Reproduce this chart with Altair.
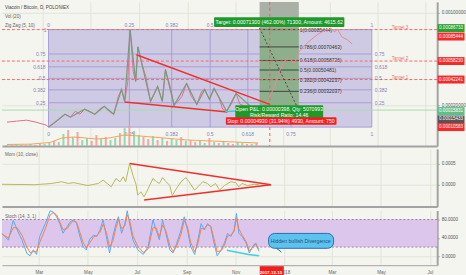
import altair as alt
import pandas as pd

FONT = "Liberation Sans"
BASE = pd.Timestamp("2017-01-14")

# ---------------- data (days counted from 2017-01-14) ----------------
price_day = [0, 12, 25, 37, 50, 53, 62, 74, 81, 87, 93, 99, 105, 112, 118, 124, 130, 136, 142, 146,
             150, 154, 157, 161, 164, 167, 171, 177, 183, 188, 192, 198, 202, 208, 213, 218, 223, 229,
             235, 242, 248, 252, 258, 264, 270, 275, 280, 285, 292, 297, 304, 310, 316]
price_val = [0.0000540, 0.0000626, 0.0000711, 0.0000540, 0.0000283, 0.0000111, 0.0000540, 0.0001225,
             0.0000968, 0.0001482, 0.0001225, 0.0001654, 0.0001482, 0.0001225, 0.0001654, 0.0001911,
             0.0001482, 0.0001225, 0.0002768, 0.0003368, 0.0002339, 0.0004053, 0.00085444, 0.0004910,
             0.0004053, 0.0007052, 0.0005767, 0.0004482, 0.0002339, 0.0003025, 0.0003625, 0.0002339,
             0.0005081, 0.0003625, 0.0001997, 0.0002339, 0.0002768, 0.0003882, 0.0002768, 0.0002082,
             0.0003196, 0.0003368, 0.0002511, 0.0003453, 0.0002682, 0.0001654, 0.0001482, 0.0001997,
             0.0003025, 0.0002082, 0.0001911, 0.0001654, 0.0001568]

zig_day = [53, 74, 81, 99, 112, 124, 136, 146, 150, 157, 164, 167, 183, 192, 198, 202, 213, 229, 242,
           252, 258, 264, 280, 292, 316]
zig_val = [0.0000111, 0.0001225, 0.0000968, 0.0001654, 0.0001225, 0.0001911, 0.0001225, 0.0003368,
           0.0002339, 0.00085444, 0.0004053, 0.0007052, 0.0002339, 0.0003625, 0.0002339, 0.0005081,
           0.0001997, 0.0003882, 0.0002082, 0.0003368, 0.0002511, 0.0003453, 0.0001482, 0.0003025,
           0.0001568]

vol_day = list(range(0, 324, 6))
vol_val = [1, 1, 2, 1, 1, 2, 1, 2, 2, 3, 5, 4, 12, 16, 9, 14, 6, 8, 5, 11, 7, 9, 6, 8, 13, 18, 20, 15,
           11, 9, 7, 10, 6, 8, 5, 7, 6, 9, 5, 6, 4, 5, 3, 8, 4, 3, 5, 3, 2, 4, 3, 2, 2, 3]
vol_dir = ["u", "d", "u", "u", "d", "u", "d", "d", "u", "u", "d", "u", "u", "d", "u", "d", "u", "u",
           "d", "d", "u", "d", "u", "u", "d", "u", "d", "u", "u", "d", "d", "u", "d", "u", "d", "u",
           "u", "d", "u", "d", "d", "u", "u", "d", "u", "d", "u", "d", "d", "u", "u", "d", "u", "d"]
volma_day = [0, 30, 55, 70, 85, 100, 115, 130, 150, 170, 200, 230, 260, 290, 320]
volma_val = [1.5, 1.8, 3.5, 8, 9, 8, 7, 8, 11, 10, 8, 6, 5, 4, 3]

proj_day = [325, 332, 341, 347, 353, 359, 366, 372, 384, 397, 406, 413, 418, 421, 427, 434, 440]
proj_val = [0.00020, 0.000234, 0.000362, 0.000491, 0.000577, 0.000619, 0.00056, 0.000662, 0.000748,
            0.000817, 0.000851, 0.00086, 0.000834, 0.00086, 0.000791, 0.000765, 0.00073]

mom_day = [0, 41, 62, 74, 83, 89, 99, 107, 120, 126, 131, 136, 142, 147, 151, 154, 159, 163, 167, 169,
           173, 177, 182, 188, 192, 196, 200, 204, 209, 212, 217, 223, 229, 233, 240, 244, 250, 256,
           260, 266, 271, 277, 285, 291, 295, 299, 306, 314, 320]
mom_val = [0.00001, 0, 0.00003, 0.00007, 0.00003, 0.00005, 0.00001, -0.00002, 0.00003, 0.00011,
           0.00003, -0.00005, 0.00015, 0.00007, 0.00019, 0.00007, 0.00051, 0.00023, 0.0, -0.00025,
           -0.00017, -0.00029, -0.0001, 0.00015, 0.00008, 0.00003, 0.00017, 0.00008, -0.00002,
           -0.00026, -0.0001, 0.00007, 0.00017, 0.00007, -0.00013, -0.00005, 0.00007, 0.00003,
           -0.00005, 0.00003, -0.00013, -0.00002, 0.00007, 0.00005, -0.00005, 0.00003, -0.00002,
           0.00001, 0]

stoch_day = [0, 8, 14, 19, 25, 31, 35, 39, 43, 47, 54, 60, 64, 68, 72, 76, 81, 85, 89, 93, 97, 101, 105,
             109, 114, 118, 122, 126, 130, 134, 138, 142, 145, 149, 153, 156, 159, 163, 169, 176, 182,
             188, 192, 196, 200, 204, 209, 213, 217, 223, 227, 231, 235, 240, 244, 248, 252, 256, 260,
             264, 268, 273, 277, 281, 285, 289, 292, 295, 299, 304, 308, 312, 316, 320]
stoch_k = [50, 35, 78, 57, 35, 6, 1, 14, 4, 43, 71, 99, 96, 86, 71, 50, 64, 75, 79, 71, 43, 21, 14, 36,
           46, 43, 57, 79, 43, 7, 43, 71, 86, 50, 71, 99, 71, 36, 14, 4, 21, 79, 57, 36, 79, 50, 14, 7,
           25, 57, 86, 57, 21, 4, 36, 71, 57, 71, 64, 29, 1, 14, 29, 50, 43, 57, 93, 50, 43, 29, 7, 21,
           29, 11]
stoch_d = [48, 40, 62, 62, 45, 20, 8, 10, 10, 30, 60, 90, 95, 90, 75, 58, 60, 70, 77, 74, 52, 30, 18, 28,
           42, 45, 52, 70, 52, 20, 32, 62, 80, 60, 66, 90, 78, 45, 22, 8, 16, 62, 62, 42, 68, 56, 24, 10,
           20, 48, 78, 64, 30, 10, 28, 60, 60, 68, 66, 38, 10, 12, 24, 44, 46, 54, 82, 60, 46, 32, 12, 18,
           26, 16]

# annotation values
FIB_D0, FIB_D1 = 53, 465
FIB_LO, FIB_HI = 0.0000110, 0.00085444
fib_ratio = [0.25, 0.382, 0.5, 0.618, 0.75]
targets = [0.00085444, 0.00058230, 0.00042241]
target_names = ["Target 3", "Target 2", "Target 1"]
LP_D0, LP_D1 = 322, 372
ENTRY, TARGET, STOP = 0.00015433, 0.00086733, 0.00010583
lp_levels = [0.00085444, 0.00070463, 0.00058726, 0.00050481, 0.00042237, 0.00032037, 0.00015448]
lp_labels = ["1(0.00085444)", "0.786(0.00070463)", "0.618(0.00058726)", "0.5(0.00050481)",
             "0.382(0.00042237)", "0.236(0.00032037)"]
LAST = 0.00015831
SIGNAL_DAY = 335  # 2017-12-15
badge_price = [0.00086733, 0.00085444, 0.00058230, 0.00042241, 0.00015831, 0.00015433, 0.00010583]
badge_color = ["#2e9e2e", "#f42a2a", "#f42a2a", "#f42a2a", "#5fbf8a", "#555555", "#f42a2a"]
badge_shift = [0, 7, 0, 0, 1, 9, 11]


def D(days):
    return [(BASE + pd.Timedelta(days=float(d))).strftime("%Y-%m-%d") for d in days]


# ---------------- scales / axes ----------------
GRID = "#e2e5da"
XS = alt.Scale(type="utc", domain=[alt.DateTime(year=2017, month=1, date=14, utc=True),
                                   alt.DateTime(year=2018, month=7, date=10, utc=True)])
month_vals = [alt.DateTime(year=y, month=m, date=1, utc=True)
              for (y, m) in [(2017, 3), (2017, 5), (2017, 7), (2017, 9), (2017, 11),
                             (2018, 1), (2018, 3), (2018, 5), (2018, 7)]]
AX_TOP = alt.Axis(values=month_vals, labels=False, ticks=False, domainColor="#a3a3a3", domainWidth=2,
                  gridColor=GRID, title=None)
AX_BOT = alt.Axis(values=month_vals, ticks=False, labelFontSize=4.6, labelColor="#666", labelPadding=4,
                  labelFont=FONT, domainColor="#a3a3a3", domainWidth=1, gridColor=GRID, title=None,
                  labelExpr="utcmonth(datum.value) == 0 ? utcFormat(datum.value, '%Y') : utcFormat(datum.value, '%b')")


def xe(ax, f="d"):
    return alt.X(f"{f}:T", scale=XS, axis=ax)


P_DOM = [-0.000152, 0.001094]
P_AX = alt.Axis(orient="right", values=[0.0002, 0.001], format=".8f",
                labelFontSize=4.6, labelColor="#555", labelFont=FONT, tickSize=2, tickColor="#999",
                domainColor="#a3a3a3", domainWidth=2, gridColor=GRID, title=None, labelPadding=2)


def yp(f="p"):
    return alt.Y(f"{f}:Q", scale=alt.Scale(domain=P_DOM, nice=False, zero=False), axis=P_AX)


def txt(**kw):
    base = dict(font=FONT, fontSize=5)
    base.update(kw)
    return base


# ---------------- price panel ----------------
layers = []
box = pd.DataFrame({"d": D([FIB_D0]), "d2": D([FIB_D1]), "p": [FIB_LO], "p2": [FIB_HI]})
layers.append(alt.Chart(box).mark_rect(fill="#cfcae3", stroke="#a79ed6", strokeWidth=1)
              .encode(x=xe(AX_TOP), x2="d2:T", y=yp(), y2="p2:Q"))

fib_p = [FIB_LO + r * (FIB_HI - FIB_LO) for r in fib_ratio]
fib_d = [FIB_D0 + r * (FIB_D1 - FIB_D0) for r in fib_ratio]
fh = pd.DataFrame({"d": D([FIB_D0] * 5), "d2": D([FIB_D1] * 5), "p": fib_p})
layers.append(alt.Chart(fh).mark_rule(color="#a79ed6", strokeWidth=1)
              .encode(x=xe(AX_TOP), x2="d2:T", y=yp()))
fv = pd.DataFrame({"d": D(fib_d), "p": [FIB_LO] * 5, "p2": [FIB_HI] * 5})
layers.append(alt.Chart(fv).mark_rule(color="#a79ed6", strokeWidth=1)
              .encode(x=xe(AX_TOP), y=yp(), y2="p2:Q"))

# long position boxes
gray = pd.DataFrame({"d": D([LP_D0]), "d2": D([LP_D1]), "p": [TARGET], "p2": [P_DOM[1]]})
layers.append(alt.Chart(gray).mark_rect(fill="#a9b1a6").encode(x=xe(AX_TOP), x2="d2:T", y=yp(), y2="p2:Q"))
green = pd.DataFrame({"d": D([LP_D0]), "d2": D([LP_D1]), "p": [ENTRY], "p2": [TARGET]})
layers.append(alt.Chart(green).mark_rect(fill="#8daf8c").encode(x=xe(AX_TOP), x2="d2:T", y=yp(), y2="p2:Q"))
red = pd.DataFrame({"d": D([LP_D0]), "d2": D([LP_D1]), "p": [STOP], "p2": [ENTRY]})
layers.append(alt.Chart(red).mark_rect(fill="#e08a8a").encode(x=xe(AX_TOP), x2="d2:T", y=yp(), y2="p2:Q"))
lpl = pd.DataFrame({"d": D([LP_D0] * 7), "d2": D([LP_D1] * 7), "p": lp_levels})
layers.append(alt.Chart(lpl).mark_rule(color="#3b473b", strokeWidth=1)
              .encode(x=xe(AX_TOP), x2="d2:T", y=yp()))
lpt = pd.DataFrame({"d": D([LP_D1] * 6), "p": lp_levels[:6], "t": lp_labels})
layers.append(alt.Chart(lpt).mark_text(**txt(align="left", baseline="middle", dx=1, color="#333"))
              .encode(x=xe(AX_TOP), y=yp(), text="t:N"))
diag = pd.DataFrame({"d": D([LP_D0]), "d2": D([LP_D1]), "p": [TARGET], "p2": [ENTRY]})
layers.append(alt.Chart(diag).mark_rule(color="#444", strokeDash=[2, 2], strokeWidth=1)
              .encode(x=xe(AX_TOP), x2="d2:T", y=yp(), y2="p2:Q"))

# horizontal target lines and last price line
tg = pd.DataFrame({"p": targets, "t": target_names, "d": D([501] * 3)})
layers.append(alt.Chart(tg).mark_rule(color="#f26b6b", strokeDash=[3, 2], strokeWidth=1).encode(y=yp()))
layers.append(alt.Chart(tg).mark_text(**txt(fontSize=4.6, color="#f07070", dy=-2))
              .encode(x=xe(AX_TOP), y=yp(), text="t:N"))
layers.append(alt.Chart(pd.DataFrame({"p": [LAST]})).mark_rule(color="#a6dbb0", strokeWidth=1)
              .encode(y=yp()))
layers.append(alt.Chart(pd.DataFrame({"d": D([SIGNAL_DAY])})).mark_rule(color="#f25c5c", strokeDash=[3, 3])
              .encode(x=xe(AX_TOP)))

# fib labels
lab_all = ["0", "0.25", "0.382", "0.5", "0.618", "0.75", "1"]
top_idx = [0, 1, 2, 3, 6]  # 0.618 and 0.75 are hidden behind the target label
all_d = [FIB_D0] + fib_d + [FIB_D1]
lt = pd.DataFrame({"d": D([all_d[i] for i in top_idx]), "p": [0.000898] * len(top_idx),
                   "t": [lab_all[i] for i in top_idx]})
layers.append(alt.Chart(lt).mark_text(**txt(color="#8a82c0")).encode(x=xe(AX_TOP), y=yp(), text="t:N"))
lb = pd.DataFrame({"d": D(all_d), "p": [-0.000052] * 7, "t": lab_all})
layers.append(alt.Chart(lb).mark_text(**txt(color="#8a82c0")).encode(x=xe(AX_TOP), y=yp(), text="t:N"))
side_t = ["0.25", "0.382", "0.5", "0.618", "0.75"]
ls = pd.DataFrame({"d": D([FIB_D0] * 5), "d2": D([FIB_D1] * 5), "p": fib_p, "t": side_t})
layers.append(alt.Chart(ls).mark_text(**txt(color="#8a82c0", align="right", dx=-3))
              .encode(x=xe(AX_TOP), y=yp(), text="t:N"))
layers.append(alt.Chart(ls).mark_text(**txt(color="#8a82c0", align="left", dx=3))
              .encode(x=xe(AX_TOP, "d2"), y=yp(), text="t:N"))
one = pd.DataFrame({"d": D([FIB_D0]), "p": [FIB_HI], "t": ["1"]})
layers.append(alt.Chart(one).mark_text(**txt(color="#8a82c0", align="right", dx=-2))
              .encode(x=xe(AX_TOP), y=yp(), text="t:N"))

# price, zigzag, projection
pr = pd.DataFrame({"d": D(price_day), "p": price_val})
layers.append(alt.Chart(pr).mark_line(color="#e36f8b", strokeWidth=1).encode(x=xe(AX_TOP), y=yp()))
zz = pd.DataFrame({"d": D(zig_day), "p": zig_val})
layers.append(alt.Chart(zz).mark_line(color="#7b9a7d", strokeWidth=1.2).encode(x=xe(AX_TOP), y=yp()))
pj = pd.DataFrame({"d": D(proj_day), "p": proj_val})
layers.append(alt.Chart(pj).mark_line(color="#e58a98", strokeWidth=1).encode(x=xe(AX_TOP), y=yp()))

# triangle
tri = pd.DataFrame({"d": D([165, 150]), "d2": D([335, 281]),
                    "p": [0.000637, 0.000228], "p2": [0.000208, 0.000142]})
layers.append(alt.Chart(tri).mark_rule(color="#f03030", strokeWidth=1.5)
              .encode(x=xe(AX_TOP), x2="d2:T", y=yp(), y2="p2:Q"))
cy = pd.DataFrame({"d": D([278]), "d2": D([294]), "p": [0.000145], "p2": [0.000150]})
layers.append(alt.Chart(cy).mark_rule(color="#40c8e0", strokeWidth=1.5)
              .encode(x=xe(AX_TOP), x2="d2:T", y=yp(), y2="p2:Q"))

# position labels
def label_box(d0, d1, p0, p1, color, lines, ps):
    out = []
    b = pd.DataFrame({"d": D([d0]), "d2": D([d1]), "p": [p0], "p2": [p1]})
    out.append(alt.Chart(b).mark_rect(fill=color, cornerRadius=1).encode(x=xe(AX_TOP), x2="d2:T", y=yp(), y2="p2:Q"))
    t = pd.DataFrame({"d": D([(d0 + d1) / 2] * len(lines)), "p": ps, "t": lines})
    out.append(alt.Chart(t).mark_text(**txt(color="white", fontSize=5.2)).encode(x=xe(AX_TOP), y=yp(), text="t:N"))
    return out


layers += label_box(264, 430, 0.000877, 0.000962, "#1e9a2a",
                    ["Target: 0.00071300 (462.00%) 71300, Amount: 4615.62"], [0.000919])
layers += label_box(291, 403, 0.0000797, 0.0001997, "#1e9a2a",
                    ["Open P&L: 0.00000398, Qty: 5070993", "Risk/Reward Ratio: 14.46"], [0.000165, 0.000113])
layers += label_box(279, 420, 0.0000320, 0.0000968, "#f02020",
                    ["Stop: 0.00004930 (31.94%) 4930, Amount: 750"], [0.0000645])

# axis badges
for p, c, s in zip(badge_price, badge_color, badge_shift):
    bd = pd.DataFrame({"p": [p], "t": [f"{p:.8f}"]})
    layers.append(alt.Chart(bd).mark_tick(orient="horizontal", size=27, thickness=8, color=c, opacity=1,
                                          yOffset=s)
                  .encode(x=alt.value(452), y=yp()))
    layers.append(alt.Chart(bd).mark_text(**txt(color="white", fontSize=4.6, dy=s))
                  .encode(x=alt.value(452), y=yp(), text="t:N"))

for i, t in enumerate(["Viacoin / Bitcoin, D, POLONIEX", "Vol (20)", "Zig Zag (5, 10)"]):
    layers.append(alt.Chart(pd.DataFrame({"t": [t]})).mark_text(
        **txt(align="left", baseline="middle", fontSize=4.6, color="#444" if i == 0 else "#666"))
        .encode(x=alt.value(3), y=alt.value(6 + 9 * i), text="t:N"))

price_main = alt.layer(*layers)

vol = pd.DataFrame({"d": D(vol_day), "v": vol_val, "dir": vol_dir})
VS = alt.Scale(domain=[0, 145], nice=False)
vol_bars = alt.Chart(vol).mark_bar(width=2, opacity=0.85).encode(
    x=xe(AX_TOP), y=alt.Y("v:Q", scale=VS, axis=None),
    color=alt.Color("dir:N", scale=alt.Scale(domain=["u", "d"], range=["#86d3a2", "#f29a9a"]), legend=None))
vma = pd.DataFrame({"d": D(volma_day), "v": volma_val})
vol_ma = alt.Chart(vma).mark_line(color="#f5a35c", strokeWidth=1).encode(
    x=xe(AX_TOP), y=alt.Y("v:Q", scale=VS, axis=None))

price_panel = alt.layer(price_main, alt.layer(vol_bars, vol_ma)).resolve_scale(
    y="independent", color="independent").properties(width=438, height=145)

# ---------------- momentum panel ----------------
M_DOM = [-0.000524, 0.000857]
M_AX = alt.Axis(orient="right", values=[0, 0.0005], format=".4f", labelFontSize=4.6, labelColor="#555",
                labelFont=FONT, tickSize=2, tickColor="#999", domainColor="#a3a3a3", domainWidth=2,
                gridColor=GRID, title=None, labelPadding=2)


def ym(f="m"):
    return alt.Y(f"{f}:Q", scale=alt.Scale(domain=M_DOM, nice=False, zero=False), axis=M_AX)


md = pd.DataFrame({"d": D(mom_day), "m": mom_val})
mom_line = alt.Chart(md).mark_line(color="#b9b85c", strokeWidth=1).encode(x=xe(AX_TOP), y=ym())
mtri = pd.DataFrame({"d": D([159, 177]), "d2": D([335, 335]), "m": [0.00051, -0.000364], "m2": [0, 0]})
mom_tri = alt.Chart(mtri).mark_rule(color="#f03030", strokeWidth=1.5).encode(
    x=xe(AX_TOP), x2="d2:T", y=ym(), y2="m2:Q")
mom_leg = alt.Chart(pd.DataFrame({"t": ["Mom (10, close)"]})).mark_text(
    **txt(align="left", baseline="middle", fontSize=4.6, color="#666")).encode(
    x=alt.value(3), y=alt.value(6), text="t:N")
mom_panel = alt.layer(mom_line, mom_tri, mom_leg).properties(width=438, height=58)

# ---------------- stochastic panel ----------------
S_DOM = [-19.5, 99.5]
S_AX = alt.Axis(orient="right", values=[0, 40, 80], format=".4f", labelFontSize=4.6, labelColor="#555",
                labelFont=FONT, tickSize=2, tickColor="#999", domainColor="#a3a3a3", domainWidth=2,
                gridColor=GRID, title=None, labelPadding=2)


def ys(f="s"):
    return alt.Y(f"{f}:Q", scale=alt.Scale(domain=S_DOM, nice=False, zero=False), axis=S_AX)


band = pd.DataFrame({"s": [20], "s2": [80]})
s_band = alt.Chart(band).mark_rect(fill="#dcc6ec").encode(y=ys(), y2="s2:Q")
s_lines = alt.Chart(pd.DataFrame({"s": [20, 80]})).mark_rule(
    color="#9c7fb2", strokeDash=[2, 2], strokeWidth=1).encode(y=ys())
sd = pd.DataFrame({"d": D(stoch_day), "k": stoch_k, "dd": stoch_d})
s_k = alt.Chart(sd).mark_line(color="#5aa9f2", strokeWidth=1).encode(x=xe(AX_BOT), y=ys("k"))
s_d = alt.Chart(sd).mark_line(color="#f08250", strokeWidth=1).encode(x=xe(AX_BOT), y=ys("dd"))
div = pd.DataFrame({"d": D([280, 307, 320]), "s": [13, 4, 1]})
s_div = alt.Chart(div).mark_line(color="#3fd0e6", strokeWidth=1.5).encode(x=xe(AX_BOT), y=ys())
call = pd.DataFrame({"d": D([332]), "d2": D([413]), "s": [17.3], "s2": [49.7]})
s_call = alt.Chart(call).mark_rect(fill="#5cc3ee", stroke="#2b6cb0", strokeWidth=1, cornerRadius=6).encode(
    x=xe(AX_BOT), x2="d2:T", y=ys(), y2="s2:Q")
tail = pd.DataFrame({"d": D([342]), "d2": D([348]), "s": [17.3], "s2": [9]})
s_tail = alt.Chart(tail).mark_rule(color="#2b6cb0", strokeWidth=1).encode(
    x=xe(AX_BOT), x2="d2:T", y=ys(), y2="s2:Q")
s_calltxt = alt.Chart(pd.DataFrame({"d": D([372.5]), "s": [33.5], "t": ["Hidden bullish Divergence"]})).mark_text(
    **txt(color="#1c4e8c", fontSize=5.2)).encode(x=xe(AX_BOT), y=ys(), text="t:N")
s_leg = alt.Chart(pd.DataFrame({"t": ["Stoch (14, 3, 1)"]})).mark_text(
    **txt(align="left", baseline="middle", fontSize=4.6, color="#666")).encode(
    x=alt.value(3), y=alt.value(6), text="t:N")
datelab = pd.DataFrame({"d": D([321]), "d2": D([351]), "c": D([SIGNAL_DAY]), "t": ["2017-12-15"]})
s_dl = alt.Chart(datelab).mark_rect(fill="#f21d1d").encode(
    x=xe(AX_BOT), x2="d2:T", y=alt.value(56), y2=alt.value(69))
s_dt = alt.Chart(datelab).mark_text(**txt(color="white", fontSize=4.4, fontWeight="bold", baseline="middle")).encode(
    x=xe(AX_BOT, "c"), y=alt.value(62.5), text="t:N")
stoch_panel = alt.layer(s_band, s_lines, s_k, s_d, s_div, s_call, s_tail, s_calltxt, s_leg, s_dl, s_dt
                        ).properties(width=438, height=55)

chart = alt.vconcat(price_panel, mom_panel, stoch_panel, spacing=2).properties(
    background="#f3f5ee", padding={"left": 0, "top": 0, "right": 0, "bottom": 0}
).configure_view(stroke=None)

chart.save("out.html", embed_options={"renderer": "svg", "actions": False})
